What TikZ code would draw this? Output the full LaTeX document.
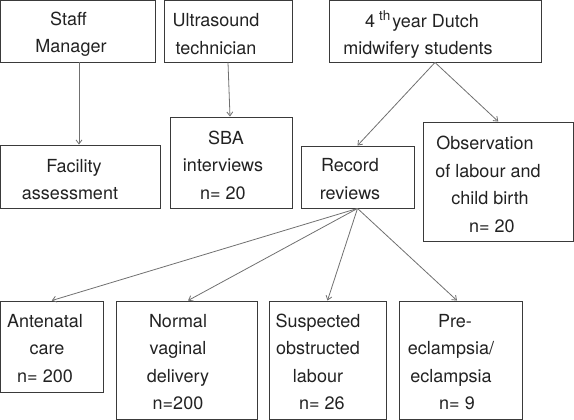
\documentclass[tikz,border=0pt]{standalone}
\usepackage{fontspec}
\setmainfont{TeX Gyre Heros}
\usetikzlibrary{arrows.meta,calc}
\definecolor{boxc}{HTML}{3A3A3A}
\definecolor{arrc}{HTML}{707070}
\definecolor{txtc}{HTML}{222222}
\tikzset{
  box/.style={draw=boxc, line width=0.9pt, rectangle, inner sep=0pt},
  lbl/.style={text=txtc, align=center, inner sep=0pt, font=\fontsize{18}{27.5}\selectfont},
  arr/.style={draw=arrc, line width=0.8pt, -{Straight Barb[length=4pt,width=6pt]}}
}
\begin{document}
\begin{tikzpicture}[x=1pt,y=-1pt]
\useasboundingbox (0,0) rectangle (574,420);
% boxes
\node[box, minimum width=154.5pt, minimum height=61.5pt] (staff) at (77.75,31.25) {};
\node[box, minimum width=128pt, minimum height=61.5pt] (ultra) at (228,31.25) {};
\node[box, minimum width=212pt, minimum height=61.5pt] (dutch) at (435,31.25) {};
\node[box, minimum width=159.5pt, minimum height=63pt] (fac) at (80.25,176.5) {};
\node[box, minimum width=122pt, minimum height=91pt] (sba) at (231,162.5) {};
\node[box, minimum width=113pt, minimum height=62pt] (rec) at (357.5,177) {};
\node[box, minimum width=150.5pt, minimum height=119pt] (obs) at (498.25,181.5) {};
\node[box, minimum width=102.5pt, minimum height=91pt] (ante) at (51.75,346.5) {};
\node[box, minimum width=141pt, minimum height=118pt] (norm) at (186.5,360) {};
\node[box, minimum width=117pt, minimum height=118pt] (susp) at (327.5,360) {};
\node[box, minimum width=123pt, minimum height=118pt] (pre) at (460.5,360) {};
% texts
\node[lbl] (tstaff) at (71,34) {Staff\hspace*{5pt}\\Manager};
\node[lbl] (tultra) at (216,34) {Ultrasound\\technician};
\node[lbl] (tdutch) at (418,34.5) {\hspace*{8pt}4\hspace{4pt}\raisebox{7pt}{\fontsize{13.5}{13.5}\selectfont th}\hspace{2pt}year Dutch\\midwifery students};
\node[lbl] (tfac) at (70,179.5) {\hspace*{8pt}Facility\\assessment};
\node[lbl] (tsba) at (223,165) {\hspace*{6pt}SBA\\interviews\\n= 20};
\node[lbl] (trec) at (350,179) {Record\\reviews};
\node[lbl] (tobs) at (488,184.5) {Observation\hspace*{6pt}\\of labour and\hspace*{6pt}\\\hspace*{4pt}child birth\\\hspace*{8pt}n= 20};
\node[lbl] (tante) at (45,348.5) {Antenatal\\\hspace*{4pt}care\\n= 200};
\node[lbl] (tnorm) at (178,362) {Normal\\vaginal\\delivery\\n=200};
\node[lbl] (tsusp) at (318,362) {Suspected\\obstructed\\labour\\\hspace*{8pt}n= 26};
\node[lbl] (tpre) at (451,362) {\hspace*{8pt}Pre-\\eclampsia/\\eclampsia\\\hspace*{12pt}n= 9};
% connectors
\draw[arr] ([xshift=1.25pt]staff.south) -- ([xshift=-1.25pt]fac.north);
\draw[arr] (ultra.south) -- ([xshift=-1pt]sba.north);
\draw[arr] (dutch.south) -- (rec.north);
\draw[arr] (dutch.south) -- (obs.north);
\draw[arr] (rec.south) -- (ante.north);
\draw[arr] (rec.south) -- ([xshift=1.5pt]norm.north);
\draw[arr] (rec.south) -- (susp.north);
\draw[arr] (rec.south) -- ([xshift=-3.5pt]pre.north);
\end{tikzpicture}
\end{document}
